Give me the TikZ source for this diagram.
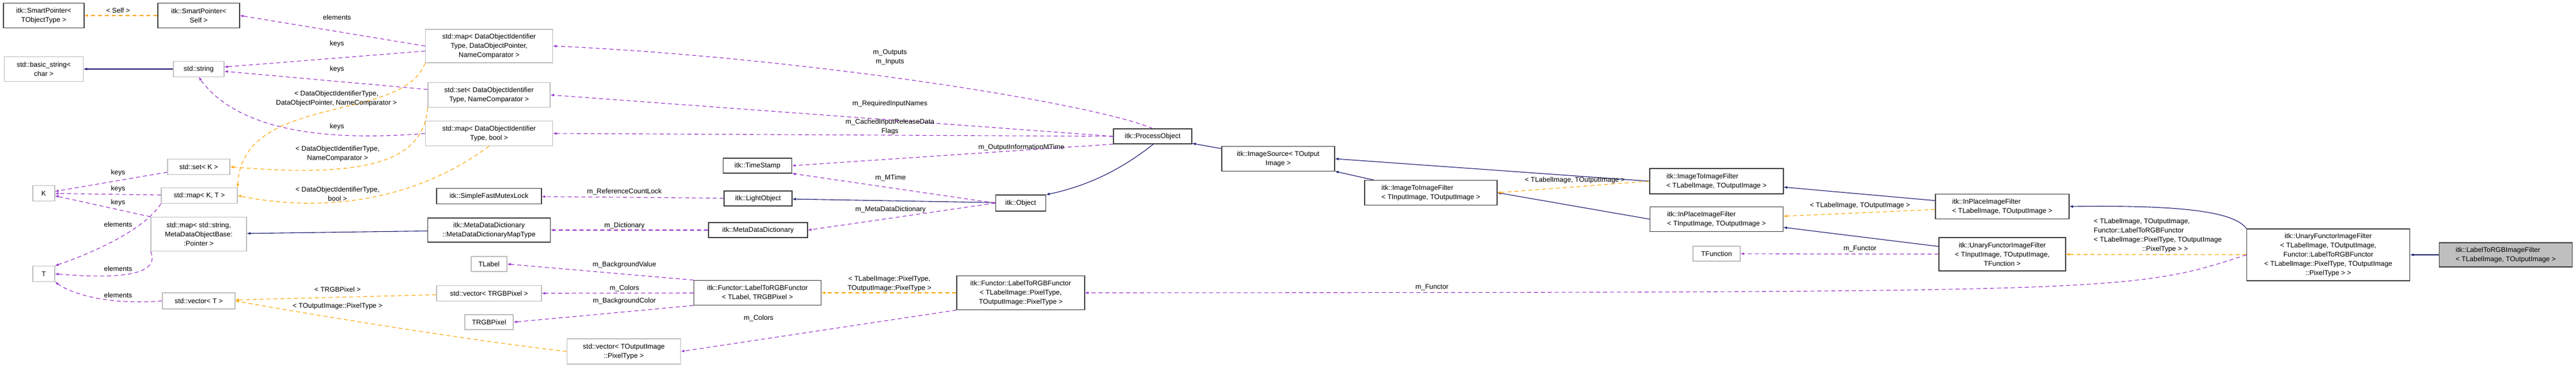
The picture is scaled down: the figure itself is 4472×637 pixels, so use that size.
\documentclass[tikz,border=0pt]{standalone}
\usepackage{fontspec}
\setmainfont{Liberation Sans}
\usetikzlibrary{arrows}
\definecolor{inhblue}{RGB}{25,25,112}
\definecolor{usepurple}{RGB}{153,50,204}
\definecolor{tmplorange}{RGB}{255,165,0}
\definecolor{extgray}{RGB}{191,191,191}
\tikzstyle{dox}=[
  x=1pt, y=-1pt, >=latex, font=\fontsize{12}{16}\selectfont
]
\tikzstyle{cls}=[
  draw=black!75, line width=1.2pt, fill=white, inner sep=0pt, align=center
]
\tikzstyle{ext}=[
  cls, draw=extgray
]
\tikzstyle{inh}=[
  ->, draw=inhblue, line width=1.1pt
]
\tikzstyle{use}=[
  ->, draw=usepurple, dashed, dash pattern=on 7pt off 5pt, line width=1.1pt
]
\tikzstyle{tmpl}=[
  use, draw=tmplorange
]
\tikzstyle{lbl}=[
  align=center, inner sep=0pt
]

\begin{document}
\begin{tikzpicture}[dox]
    \useasboundingbox (0,0) rectangle (4472,637);

    % left column
    \node (spt) [cls, minimum width=140, minimum height=43] at (76,27) {itk::SmartPointer<\\TObjectType >};
    \node (sps) [cls, minimum width=142, minimum height=43] at (345,27) {itk::SmartPointer<\\Self >};
    \node (bstr) [ext, minimum width=137, minimum height=43] at (76,120) {std::basic\_string<\\char >};
    \node (str) [ext, minimum width=88, minimum height=27] at (345,120) {std::string};
    \node (setk) [ext, minimum width=108, minimum height=27] at (345,290) {std::set< K >};
    \node (k) [ext, minimum width=38, minimum height=27] at (76,336) {K};
    \node (mapkt) [ext, minimum width=132, minimum height=27] at (346,340) {std::map< K, T >};
    \node (mapstr) [ext, minimum width=166, minimum height=59] at (345,407) {std::map< std::string,\\MetaDataObjectBase:\\:Pointer >};
    \node (t) [ext, minimum width=38, minimum height=27] at (76,476) {T};
    \node (vect) [ext, minimum width=126, minimum height=28] at (345,523) {std::vector< T >};

    % containers
    \node (mapdop) [ext, minimum width=221, minimum height=58] at (849,80) {std::map< DataObjectIdentifier\\Type, DataObjectPointer,\\NameComparator >};
    \node (setdoi) [ext, minimum width=212, minimum height=43] at (849,165) {std::set< DataObjectIdentifier\\Type, NameComparator >};
    \node (mapbool) [ext, minimum width=221, minimum height=43] at (849,232) {std::map< DataObjectIdentifier\\Type, bool >};
    \node (mutex) [cls, minimum width=182, minimum height=27] at (849,341) {itk::SimpleFastMutexLock};
    \node (mddmap) [cls, minimum width=213, minimum height=42] at (849,400) {itk::MetaDataDictionary\\::MetaDataDictionaryMapType};
    \node (tlabel) [ext, minimum width=62, minimum height=26] at (849,459) {TLabel};
    \node (vecrgb) [ext, minimum width=182, minimum height=27] at (849,510) {std::vector< TRGBPixel >};
    \node (trgb) [ext, minimum width=84, minimum height=26] at (849,560) {TRGBPixel};

    % itk core
    \node (tstamp) [cls, minimum width=119, minimum height=26] at (1315,288) {itk::TimeStamp};
    \node (light) [cls, minimum width=118, minimum height=26] at (1316,345) {itk::LightObject};
    \node (mdd) [cls, minimum width=172, minimum height=26] at (1316,400) {itk::MetaDataDictionary};
    \node (lfunc) [cls, minimum width=221, minimum height=43] at (1315,509) {itk::Functor::LabelToRGBFunctor\\< TLabel, TRGBPixel >};
    \node (vecout) [ext, minimum width=197, minimum height=44] at (1083,611) {std::vector< TOutputImage\\::PixelType >};
    \node (obj) [cls, minimum width=87, minimum height=28] at (1772,353) {itk::Object};
    \node (lfun) [cls, minimum width=222, minimum height=59] at (1772,509) {itk::Functor::LabelToRGBFunctor\\< TLabelImage::PixelType,\\TOutputImage::PixelType >};
    \node (proc) [cls, minimum width=136, minimum height=26] at (2001,237) {itk::ProcessObject};
    \node (isrc) [cls, minimum width=196, minimum height=43] at (2219,276) {itk::ImageSource< TOutput\\Image >};

    % filters
    \node (itif) [cls, align=left, minimum width=230, minimum height=43] at (2484,335) {itk::ImageToImageFilter\\< TInputImage, TOutputImage >};
    \node (itifl) [cls, align=left, minimum width=232, minimum height=44] at (2980,315) {itk::ImageToImageFilter\\< TLabelImage, TOutputImage >};
    \node (ipif) [cls, align=left, minimum width=231, minimum height=43] at (2980,381) {itk::InPlaceImageFilter\\< TInputImage, TOutputImage >};
    \node (tfun) [ext, minimum width=82, minimum height=26] at (2980,441) {TFunction};
    \node (ipifl) [cls, align=left, minimum width=232, minimum height=43] at (3476,359) {itk::InPlaceImageFilter\\< TLabelImage, TOutputImage >};
    \node (ufif) [cls, minimum width=220, minimum height=58] at (3476,442) {itk::UnaryFunctorImageFilter\\< TInputImage, TOutputImage,\\TFunction >};
    \node (ufifl) [cls, minimum width=283, minimum height=90] at (4042,443) {itk::UnaryFunctorImageFilter\\< TLabelImage, TOutputImage,\\Functor::LabelToRGBFunctor\\< TLabelImage::PixelType, TOutputImage\\::PixelType > >};
    \node (l2rgb) [cls, fill=extgray, align=left, minimum width=231, minimum height=42] at (4350,443) {itk::LabelToRGBImageFilter\\< TLabelImage, TOutputImage >};

    % inheritance
    \draw [inh] (str) -- (bstr);
    \draw [inh] (mddmap) -- (mapstr);
    \draw [inh] (obj) -- (light);
    \draw [inh] (proc.275) .. controls (1940,300) and (1880,325) .. (obj.north east);
    \draw [inh] (isrc) -- (proc);
    \draw [inh] (itif) -- (isrc);
    \draw [inh] (itifl.west) -- (isrc.east);
    \draw [inh] (ipif.west) -- (itif.east);
    \draw [inh] (ipifl) -- (itifl);
    \draw [inh] (ufif) -- (ipif);
    \draw [inh] (ufifl.north west) .. controls (3880,370) and (3800,356) .. (ipifl.east);
    \draw [inh] (l2rgb) -- (ufifl);

    % template instances
    \draw [tmpl] (sps) -- (spt);
    \draw [tmpl] (mapdop.south west) .. controls (700,215) and (420,160) .. (mapkt.north east);
    \draw [tmpl] (setdoi.south west) .. controls (735,280) and (640,310) .. (setk.east);
    \draw [tmpl] (mapbool.south) .. controls (720,350) and (560,370) .. (mapkt.east);
    \draw [tmpl] (vecrgb) -- (vect);
    \draw [tmpl] (vecout.west) .. controls (800,590) and (500,540) .. (vect.east);
    \draw [tmpl] (lfun) -- (lfunc);
    \draw [tmpl] (itifl.west) -- (itif.east);
    \draw [tmpl] (ipifl) -- (ipif);
    \draw [tmpl] (ufifl) -- (ufif);

    % usage
    \draw [use] (mapdop.west) -- (sps.east);
    \draw [use] (mapdop) -- (str);
    \draw [use] (setdoi) -- (str);
    \draw [use] (mapbool.west) .. controls (520,250) and (400,210) .. (str.south);
    \draw [use] (setk) -- (k);
    \draw [use] (mapkt) -- (k);
    \draw [use] (mapstr.north west) -- (k);
    \draw [use] (mapkt.south west) .. controls (250,400) and (160,440) .. (t.north east);
    \draw [use] (mapstr.south west) .. controls (280,480) and (200,485) .. (t.east);
    \draw [use] (vect.west) .. controls (200,530) and (130,515) .. (t.south east);
    \draw [use] (proc.north) .. controls (1900,180) and (1400,100) .. (mapdop.east);
    \draw [use] (proc.west) -- (setdoi.east);
    \draw [use] (proc.west) -- (mapbool.east);
    \draw [use] (proc.south west) -- (tstamp.east);
    \draw [use] (obj.west) -- (tstamp.south east);
    \draw [use] (light) -- (mutex);
    \draw [use] (obj.west) -- (mdd.east);
    \draw [use] (mdd) -- (mddmap);
    \draw [use] (lfunc.north west) -- (tlabel.east);
    \draw [use] (lfunc) -- (vecrgb);
    \draw [use] (lfunc.south west) -- (trgb.east);
    \draw [use] (lfun.south west) -- (vecout.east);
    \draw [use] (ufifl.west) .. controls (3700,508) .. (lfun.east);
    \draw [use] (ufif) -- (tfun);

    % labels
    \node (l1) [lbl] at (205,18) {< Self >};
    \node (l2) [lbl] at (585,30) {elements};
    \node (l3) [lbl] at (585,76) {keys};
    \node (l4) [lbl] at (585,120) {keys};
    \node (l5) [lbl] at (584,171) {< DataObjectIdentifierType,\\DataObjectPointer, NameComparator >};
    \node (l6) [lbl] at (585,220) {keys};
    \node (l7) [lbl] at (586,267) {< DataObjectIdentifierType,\\NameComparator >};
    \node (l8) [lbl] at (586,337) {< DataObjectIdentifierType,\\bool >};
    \node (l9) [lbl] at (205,300) {keys};
    \node (l10) [lbl] at (205,328) {keys};
    \node (l11) [lbl] at (205,352) {keys};
    \node (l12) [lbl] at (205,390) {elements};
    \node (l13) [lbl] at (205,467) {elements};
    \node (l14) [lbl] at (205,513) {elements};
    \node (l15) [lbl] at (586,503) {< TRGBPixel >};
    \node (l16) [lbl] at (586,532) {< TOutputImage::PixelType >};
    \node (l17) [lbl] at (1545,100) {m\_Outputs\\m\_Inputs};
    \node (l18) [lbl] at (1545,180) {m\_RequiredInputNames};
    \node (l19) [lbl] at (1545,220) {m\_CachedInputReleaseData\\Flags};
    \node (l20) [lbl] at (1773,256) {m\_OutputInformationMTime};
    \node (l21) [lbl] at (1546,309) {m\_MTime};
    \node (l22) [lbl] at (1084,333) {m\_ReferenceCountLock};
    \node (l23) [lbl] at (1546,364) {m\_MetaDataDictionary};
    \node (l24) [lbl] at (1084,392) {m\_Dictionary};
    \node (l25) [lbl] at (1084,460) {m\_BackgroundValue};
    \node (l26) [lbl] at (1084,501) {m\_Colors};
    \node (l27) [lbl] at (1084,523) {m\_BackgroundColor};
    \node (l28) [lbl] at (1544,493) {< TLabelImage::PixelType,\\TOutputImage::PixelType >};
    \node (l29) [lbl] at (1317,553) {m\_Colors};
    \node (l30) [lbl] at (2486,500) {m\_Functor};
    \node (l31) [lbl] at (2734,313) {< TLabelImage, TOutputImage >};
    \node (l32) [lbl] at (3229,357) {< TLabelImage, TOutputImage >};
    \node (l33) [lbl] at (3229,433) {m\_Functor};
    \node (l34) [lbl, align=left] at (3746,409) {< TLabelImage, TOutputImage,\\Functor::LabelToRGBFunctor\\< TLabelImage::PixelType, TOutputImage\\\hspace*{7em}::PixelType > >};
\end{tikzpicture}
\end{document}
